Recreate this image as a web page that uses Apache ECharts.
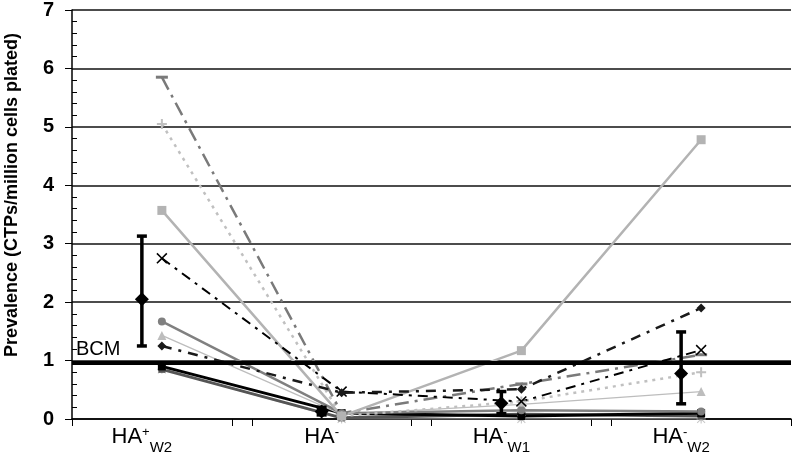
<!DOCTYPE html>
<html><head><meta charset="utf-8">
<script src="https://cdn.jsdelivr.net/npm/echarts@6/dist/echarts.min.js"></script>
<style>html,body{margin:0;padding:0;background:#fff}#c{width:792px;height:456px}</style>
</head><body><div id="c"></div>
<script>
// ---- data ----
const categories = ['HA+W2', 'HA-', 'HA-W1', 'HA-W2'];
const labelSup = ['+', '-', '-', '-'];
const labelSub = ['W2', '', 'W1', 'W2'];
const yTicks = [0, 1, 2, 3, 4, 5, 6, 7];
const yTitle = 'Prevalence (CTPs/million cells plated)';
const bcmValue = 0.97;
const bcmLabel = 'BCM';

const p1 = [5.85, 0.10, 0.60, 1.10];
const p2 = [5.05, 0.05, 0.30, 0.80];
const p3 = [3.57, 0.05, 1.17, 4.78];
const p4 = [2.75, 0.47, 0.30, 1.18];
const p5 = [1.67, 0.10, 0.15, 0.13];
const p6 = [1.43, 0.08, 0.25, 0.47];
const p7 = [1.25, 0.45, 0.51, 1.90];
const p8 = [0.90, 0.10, 0.05, 0.10];
const p9 = [0.85, 0.02, 0.08, 0.05];
const p10 = [0.85, 0.00, 0.00, 0.00];

const meanVals = [2.05, 0.13, 0.27, 0.78];
const errLow = [1.25, 0.07, 0.09, 0.26];
const errHigh = [3.13, 0.20, 0.47, 1.49];

// ---- layout ----
const W = 792, H = 456;
const gl = 72, gr = 1, gt = 10, gb = 37;
const band = (W - gl - gr) / categories.length;
const d = 20 / band; // mean series offset (category units)
const vMin = -0.5 + d, vMax = categories.length - 0.5 + d;

const FONT = "'Liberation Sans', Arial, sans-serif";
const sym = {
  plus: 'path://M4,0H6V4H10V6H6V10H4V6H0V4H4Z',
  cross: 'path://M1,0L5,4L9,0L10,1L6,5L10,9L9,10L5,6L1,10L0,9L4,5L0,1Z',
  dash: 'path://M0,0H10V2H0Z',
  star: 'path://M4.4,0H5.6V4.4H10V5.6H5.6V10H4.4V5.6H0V4.4H4.4Z M1,0.2L5,4.2L9,0.2L9.8,1L5.8,5L9.8,9L9,9.8L5,5.8L1,9.8L0.2,9L4.2,5L0.2,1Z'
};

function line(name, data, color, width, type, symbol, size) {
  return {
    name, type: 'line', data, xAxisIndex: 0, yAxisIndex: 0,
    symbol, symbolSize: size, showSymbol: true,
    lineStyle: { color, width, type },
    itemStyle: { color },
    z: 3, animation: false, silent: true
  };
}

const series = [
  line('P10', p10, '#c8c8c8', 1, 'solid', sym.star, 9),
  line('P9', p9, '#555555', 3, 'solid', 'rect', 7),
  line('P8', p8, '#000000', 3, 'solid', 'rect', 8),
  line('P6', p6, '#bdbdbd', 1.3, 'solid', 'triangle', 9),
  line('P5', p5, '#808080', 2.5, 'solid', 'circle', 8),
  line('P2', p2, '#c0c0c0', 2.5, [3, 5], sym.plus, 10),
  line('P1', p1, '#7a7a7a', 2.5, [14, 6, 3, 6], sym.dash, [12, 3]),
  line('P3', p3, '#b3b3b3', 2.5, 'solid', 'rect', 9),
  line('P4', p4, '#000000', 2, [10, 6, 3, 6], sym.cross, 11),
  line('P7', p7, '#1a1a1a', 2.5, [10, 7, 3, 7], 'diamond', 9),
  {
    type: 'line', data: [], xAxisIndex: 0, yAxisIndex: 0, silent: true, animation: false,
    markLine: {
      symbol: 'none', silent: true, animation: false,
      data: [{ yAxis: bcmValue }],
      lineStyle: { color: '#000', width: 4, type: 'solid' },
      label: { show: true, position: 'insideStartTop', formatter: bcmLabel, fontSize: 20, color: '#000', fontFamily: FONT, distance: [4, 3] }
    }
  },
  {
    type: 'custom', xAxisIndex: 1, yAxisIndex: 0, z: 10, animation: false, silent: true,
    data: meanVals.map((m, i) => [i, m, errLow[i], errHigh[i]]),
    encode: { x: 0, y: [1, 2, 3] },
    renderItem(params, api) {
      const x = api.value(0);
      const pm = api.coord([x, api.value(1)]);
      const pl = api.coord([x, api.value(2)]);
      const ph = api.coord([x, api.value(3)]);
      const st = { stroke: '#000', lineWidth: 3.5 };
      const cw = 5, r = 7;
      return {
        type: 'group', children: [
          { type: 'line', shape: { x1: pm[0], y1: ph[1], x2: pm[0], y2: pl[1] }, style: st },
          { type: 'line', shape: { x1: pm[0] - cw, y1: ph[1], x2: pm[0] + cw, y2: ph[1] }, style: st },
          { type: 'line', shape: { x1: pm[0] - cw, y1: pl[1], x2: pm[0] + cw, y2: pl[1] }, style: st },
          { type: 'polygon', shape: { points: [[pm[0], pm[1] - r], [pm[0] + r, pm[1]], [pm[0], pm[1] + r], [pm[0] - r, pm[1]]] }, style: { fill: '#000' } }
        ]
      };
    }
  }
];

const chart = echarts.init(document.getElementById('c'), null, { renderer: 'canvas' });
chart.setOption({
  backgroundColor: '#fff',
  animation: false,
  grid: { left: gl, right: gr, top: gt, bottom: gb, containLabel: false },
  xAxis: [
    {
      type: 'category', data: categories, boundaryGap: true,
      axisLine: { show: true, onZero: false, lineStyle: { color: '#000', width: 1.5 } },
      axisTick: { show: true, length: 7, lineStyle: { color: '#000', width: 1 } },
      axisLabel: { show: false }, splitLine: { show: false }
    },
    {
      type: 'value', min: vMin, max: vMax, position: 'bottom',
      axisLine: { show: false, onZero: false },
      axisTick: { show: true, length: 7, customValues: [0.5, 1.5, 2.5], lineStyle: { color: '#000', width: 1 } },
      splitLine: { show: false },
      axisLabel: {
        show: true, customValues: [0, 1, 2, 3], margin: 14,
        formatter(v) {
          const i = Math.round(v);
          return '{b|HA}{sup|' + labelSup[i] + '}' + (labelSub[i] ? '{sub|' + labelSub[i] + '}' : '');
        },
        rich: {
          b: { fontSize: 22, fontFamily: FONT, color: '#000', lineHeight: 22, padding: [0, 0, 7, 0], verticalAlign: 'bottom' },
          sup: { fontSize: 13, fontFamily: FONT, color: '#000', lineHeight: 13, padding: [0, 0, 16, 0], verticalAlign: 'bottom' },
          sub: { fontSize: 15, fontFamily: FONT, color: '#000', lineHeight: 15, verticalAlign: 'bottom' }
        }
      }
    }
  ],
  yAxis: [
    {
      type: 'value', min: yTicks[0], max: yTicks[yTicks.length - 1], interval: 1,
      axisLine: { show: true, onZero: false, lineStyle: { color: '#000', width: 1.5 } },
      axisTick: { show: true, length: 7, lineStyle: { color: '#000', width: 1 } },
      axisLabel: { margin: 18, fontSize: 20, fontWeight: 'bold', color: '#000', fontFamily: FONT },
      splitLine: { show: true, lineStyle: { color: '#111', width: 1.5 } }
    },
    {
      type: 'value', min: yTicks[0], max: yTicks[yTicks.length - 1], interval: 1, position: 'left',
      axisLine: { show: false, onZero: false }, axisLabel: { show: false }, splitLine: { show: false },
      axisTick: { show: false, inside: true },
      minorTick: { show: true, splitNumber: 5, length: 5, lineStyle: { color: '#000', width: 1 } }
    }
  ],
  graphic: [{
    type: 'text', x: 12, y: 195, rotation: Math.PI / 2,
    style: { text: yTitle, font: 'bold 18px ' + FONT, fill: '#000', textAlign: 'center', textVerticalAlign: 'middle' }
  }],
  series
});
</script></body></html>
